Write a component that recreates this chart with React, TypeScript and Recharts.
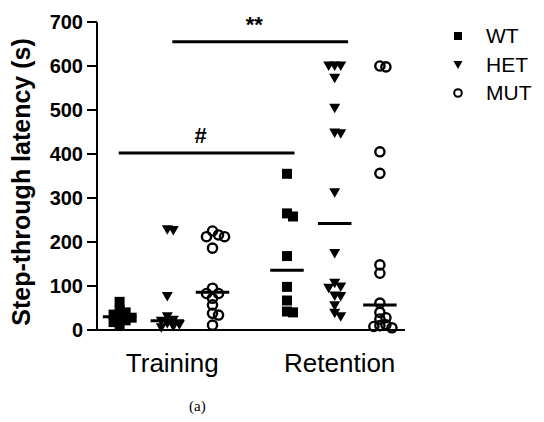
import React from 'react';
import {
  ScatterChart,
  Scatter,
  XAxis,
  YAxis,
  ReferenceLine,
} from 'recharts';

const sessions = ['Training', 'Retention'];
const genotypes = ['WT', 'HET', 'MUT'];

// latency (s) per animal
const wtTraining = [64, 45, 40, 35, 30, 28, 22, 18, 12];
const hetTraining = [228, 226, 76, 30, 22, 20, 15, 12, 8, 5];
const mutTraining = [225, 216, 212, 212, 186, 95, 83, 83, 72, 57, 38, 34, 11];
const wtRetention = [355, 265, 258, 168, 98, 67, 42, 40];
const hetRetention = [600, 600, 600, 572, 504, 448, 446, 312, 174, 106, 98, 95, 77, 76, 55, 38, 30];
const mutRetention = [600, 598, 405, 356, 148, 129, 61, 40, 28, 25, 12, 10, 8, 5];

// group centre lines [Training, Retention]
const wtLines = [30, 136];
const hetLines = [21, 242];
const mutLines = [86, 57];

const yTicks = [0, 100, 200, 300, 400, 500, 600, 700];

const sigBars = [
  { label: '**', from: 0.03, to: 1.08, y: 655 },
  { label: '#', from: -0.29, to: 0.76, y: 402 },
];

const FONT = 'Arial, "Liberation Sans", Helvetica, sans-serif';
const offsets = [-0.285, 0, 0.27];

// simple beeswarm so overlapping dots spread sideways
const PX_X = 168;
const PX_Y = 308 / 700;
const swarm = (values: number[], center: number) => {
  const placed: { x: number; y: number }[] = [];
  const sorted = [...values].sort((a, b) => b - a);
  sorted.forEach((v) => {
    for (let k = 0; k < 12; k++) {
      const step = Math.ceil(k / 2) * (k % 2 ? 1 : -1);
      const x = center + step * 0.036;
      const hit = placed.some(
        (p) => Math.hypot((p.x - x) * PX_X, (p.y - v) * PX_Y) < 6
      );
      if (!hit || k === 11) {
        placed.push({ x, y: v });
        break;
      }
    }
  });
  return placed;
};

const build = (train: number[], ret: number[], gi: number) => [
  ...swarm(train, 0 + offsets[gi]),
  ...swarm(ret, 1 + offsets[gi]),
];

const wtData = build(wtTraining, wtRetention, 0);
const hetData = build(hetTraining, hetRetention, 1);
const mutData = build(mutTraining, mutRetention, 2);

const Square = (props: any) => (
  <rect x={props.cx - 5} y={props.cy - 5} width={10} height={10} fill="#000" />
);
const Tri = (props: any) => (
  <polygon
    points={`${props.cx - 5.5},${props.cy - 4.5} ${props.cx + 5.5},${props.cy - 4.5} ${props.cx},${props.cy + 5}`}
    fill="#000"
  />
);
const Ring = (props: any) => (
  <circle cx={props.cx} cy={props.cy} r={4.6} fill="none" stroke="#000" strokeWidth={2.4} />
);

const XTick = (props: any) => (
  <text x={props.x + 5} y={props.y + 34} textAnchor="middle" fontSize={26} fontFamily={FONT} fill="#000">
    {sessions[props.payload.value]}
  </text>
);

const YTick = (props: any) => (
  <text x={props.x - 2} y={props.y + 7} textAnchor="end" fontSize={20} fontWeight="bold" fontFamily={FONT} fill="#000">
    {props.payload.value}
  </text>
);

const legendIcons = [
  <rect x={4} y={4} width={8} height={8} fill="#000" />,
  <polygon points="3.5,4 12.5,4 8,12" fill="#000" />,
  <circle cx={8} cy={8} r={3.8} fill="none" stroke="#000" strokeWidth={2} />,
];

export default function App() {
  const lines = [wtLines, hetLines, mutLines];
  return (
    <div style={{ position: 'absolute', left: 0, top: 0, width: 544, height: 422, background: '#fff' }}>
      <ScatterChart
        width={544}
        height={422}
        margin={{ top: 22, right: 139, bottom: 62, left: 0 }}
      >
        <XAxis
          type="number"
          dataKey="x"
          domain={[-0.42, 1.42]}
          ticks={[0, 1]}
          height={30}
          tick={<XTick />}
          tickLine={false}
          axisLine={{ stroke: '#000', strokeWidth: 2 }}
          allowDataOverflow
        />
        <YAxis
          type="number"
          dataKey="y"
          domain={[0, 700]}
          ticks={yTicks}
          width={97}
          tick={<YTick />}
          tickSize={10}
          tickLine={{ stroke: '#000', strokeWidth: 2 }}
          axisLine={{ stroke: '#000', strokeWidth: 2 }}
          label={{
            content: () => (
              <text
                transform="translate(30,182) rotate(-90)"
                textAnchor="middle"
                fontSize={25}
                fontWeight="bold"
                fontFamily={FONT}
                fill="#000"
              >
                Step-through latency (s)
              </text>
            ),
          }}
        />
        <Scatter data={wtData} shape={<Square />} isAnimationActive={false} />
        <Scatter data={hetData} shape={<Tri />} isAnimationActive={false} />
        <Scatter data={mutData} shape={<Ring />} isAnimationActive={false} />
        {lines.map((arr, gi) =>
          arr.map((v, si) => (
            <ReferenceLine
              key={`m-${gi}-${si}`}
              segment={[
                { x: si + offsets[gi] - 0.1, y: v },
                { x: si + offsets[gi] + 0.1, y: v },
              ]}
              stroke="#000"
              strokeWidth={3}
            />
          ))
        )}
        {sigBars.map((b) => (
          <ReferenceLine
            key={b.label}
            segment={[
              { x: b.from, y: b.y },
              { x: b.to, y: b.y },
            ]}
            stroke="#000"
            strokeWidth={3}
            label={{
              content: (p: any) => {
                const vb = p.viewBox || {};
                return (
                  <text
                    x={vb.x + vb.width / 2 - 6}
                    y={vb.y - 10}
                    textAnchor="middle"
                    fontSize={22}
                    fontWeight="bold"
                    fontFamily={FONT}
                    fill="#000"
                  >
                    {b.label}
                  </text>
                );
              },
            }}
          />
        ))}
      </ScatterChart>
      <div style={{ position: 'absolute', left: 450, top: 22 }}>
        {genotypes.map((g, i) => (
          <div key={g} style={{ display: 'flex', alignItems: 'center', height: 28.5 }}>
            <svg width={16} height={16}>{legendIcons[i]}</svg>
            <span style={{ marginLeft: 20, fontSize: 21, fontFamily: FONT, color: '#000' }}>{g}</span>
          </div>
        ))}
      </div>
      <div
        style={{
          position: 'absolute',
          left: 189,
          top: 398,
          fontSize: 15,
          fontFamily: '"Liberation Serif", "Times New Roman", serif',
          color: '#000',
        }}
      >
        (a)
      </div>
    </div>
  );
}
